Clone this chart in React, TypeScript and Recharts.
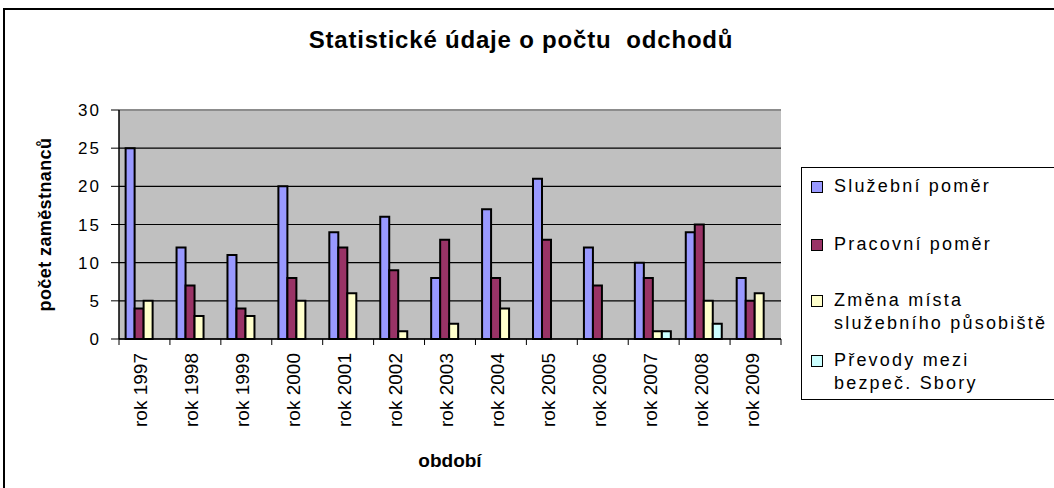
import React from "react";
import {
  BarChart,
  Bar,
  XAxis,
  YAxis,
  CartesianGrid,
  ReferenceLine,
} from "recharts";

// categories + series values
const years = [
  "rok 1997", "rok 1998", "rok 1999", "rok 2000", "rok 2001", "rok 2002", "rok 2003",
  "rok 2004", "rok 2005", "rok 2006", "rok 2007", "rok 2008", "rok 2009",
];
const sluzebni = [25, 12, 11, 20, 14, 16, 8, 17, 21, 12, 10, 14, 8];
const pracovni = [4, 7, 4, 8, 12, 9, 13, 8, 13, 7, 8, 15, 5];
const zmena = [5, 3, 3, 5, 6, 1, 2, 4, 0, 0, 1, 5, 6];
const prevody = [0, 0, 0, 0, 0, 0, 0, 0, 0, 0, 1, 2, 0];
const yTicks = [0, 5, 10, 15, 20, 25, 30];

const series = [
  { key: "sluzebni", name: "Služební poměr", color: "#9999FF" },
  { key: "pracovni", name: "Pracovní poměr", color: "#993366" },
  { key: "zmena", name: "Změna místa\nslužebního působiště", color: "#FFFFCC" },
  { key: "prevody", name: "Převody mezi\nbezpeč. Sbory", color: "#CCFFFF" },
];

const data = years.map((year, i) => ({
  year,
  sluzebni: sluzebni[i],
  pracovni: pracovni[i],
  zmena: zmena[i],
  prevody: prevody[i],
}));

const FONT = "'Liberation Sans', Arial, Helvetica, sans-serif";
const W = 1054;
const H = 488;
const MARGIN = { top: 110, right: 273, left: 0, bottom: 0 };
const HALF_BAND = (W - 119 - MARGIN.right) / years.length / 2;

// legend spacing between rows (Excel spreads them out unevenly)
const legendGaps = [7, 35, 33, 14];

// x tick: rotated year label + boundary tick marks like Excel
const YearTick = (props: any) => {
  const { x, y, payload, index } = props;
  const bx = x + 3;
  const by = y + 14;
  return (
    <g>
      <line x1={x - HALF_BAND} y1={y} x2={x - HALF_BAND} y2={y + 6} stroke="#000" />
      {index === years.length - 1 && (
        <line x1={x + HALF_BAND} y1={y} x2={x + HALF_BAND} y2={y + 6} stroke="#000" />
      )}
      <text
        x={bx}
        y={by}
        transform={`rotate(-90, ${bx}, ${by})`}
        textAnchor="end"
        fontSize={19}
        fontFamily={FONT}
        fill="#000"
      >
        {payload.value}
      </text>
    </g>
  );
};

const XTitle = (props: any) => {
  const { viewBox } = props;
  return (
    <text
      x={viewBox.x + viewBox.width / 2}
      y={467}
      textAnchor="middle"
      fontSize={19}
      fontWeight="bold"
      fontFamily={FONT}
      fill="#000"
    >
      období
    </text>
  );
};

const YTitle = (props: any) => {
  const { viewBox } = props;
  const cx = 51;
  const cy = viewBox.y + viewBox.height / 2;
  return (
    <text
      x={cx}
      y={cy}
      transform={`rotate(-90, ${cx}, ${cy})`}
      textAnchor="middle"
      fontSize={18}
      fontWeight="bold"
      letterSpacing={0.4}
      fontFamily={FONT}
      fill="#000"
    >
      počet zaměstnanců
    </text>
  );
};

const ChartLegend = () => (
  <div
    style={{
      position: "absolute",
      left: 801,
      top: 167,
      width: 300,
      height: 233,
      border: "1px solid #000",
      background: "#fff",
      fontFamily: FONT,
      fontSize: 18,
      letterSpacing: 2.2,
      lineHeight: "23px",
      color: "#000",
      boxSizing: "border-box",
    }}
  >
    {series.map((s, i) => (
      <div
        key={s.key}
        style={{ display: "flex", marginTop: legendGaps[i], paddingLeft: 9 }}
      >
        <span
          style={{
            width: 10,
            height: 10,
            marginTop: 6,
            marginRight: 11,
            flex: "none",
            background: s.color,
            border: "1.5px solid #000",
          }}
        />
        <span style={{ whiteSpace: "pre-line" }}>{s.name}</span>
      </div>
    ))}
  </div>
);

export default function App() {
  return (
    <div
      style={{
        position: "absolute",
        left: 0,
        top: 0,
        width: W,
        height: H,
        overflow: "hidden",
        background: "#fff",
      }}
    >
      <div
        style={{
          position: "absolute",
          left: 3,
          top: 8,
          width: W + 20,
          height: H + 20,
          borderLeft: "2px solid #000",
          borderTop: "2px solid #000",
        }}
      />
      <div
        style={{
          position: "absolute",
          left: 0,
          top: 28,
          width: 1042,
          textAlign: "center",
          fontFamily: FONT,
          fontSize: 24,
          lineHeight: "24px",
          fontWeight: "bold",
          letterSpacing: 0.8,
          color: "#000",
        }}
      >
        Statistické údaje o počtu&nbsp; odchodů
      </div>
      <div style={{ position: "absolute", left: 0, top: 0 }}>
        <BarChart
          width={W}
          height={H}
          data={data}
          margin={MARGIN}
          barCategoryGap="13%"
          barGap={0}
        >
          <CartesianGrid
            yAxisId="left"
            vertical={false}
            stroke="#000"
            strokeWidth={1.2}
            fill="#C0C0C0"
            fillOpacity={1}
          />
          <XAxis
            dataKey="year"
            height={H - 339}
            interval={0}
            tickLine={false}
            tickSize={0}
            tickMargin={0}
            axisLine={{ stroke: "#000", strokeWidth: 1.5 }}
            tick={<YearTick />}
            label={<XTitle />}
          />
          <YAxis
            yAxisId="left"
            width={119}
            domain={[0, 30]}
            ticks={yTicks}
            interval={0}
            tickSize={8}
            tickMargin={10}
            axisLine={{ stroke: "#000", strokeWidth: 1.5 }}
            tickLine={{ stroke: "#000" }}
            tick={{ fill: "#000", fontSize: 17, fontFamily: FONT, letterSpacing: 2 }}
            label={<YTitle />}
          />
          <YAxis
            yAxisId="right"
            orientation="right"
            width={0}
            domain={[0, 30]}
            tick={false}
            tickLine={false}
            axisLine={{ stroke: "#8c8c8c", strokeWidth: 2 }}
          />
          <ReferenceLine yAxisId="left" y={30} stroke="#8c8c8c" strokeWidth={2} />
          {series.map((s) => (
            <Bar
              key={s.key}
              yAxisId="left"
              dataKey={s.key}
              name={s.name}
              fill={s.color}
              stroke="#000"
              strokeWidth={2}
              isAnimationActive={false}
            />
          ))}
        </BarChart>
      </div>
      <ChartLegend />
    </div>
  );
}
